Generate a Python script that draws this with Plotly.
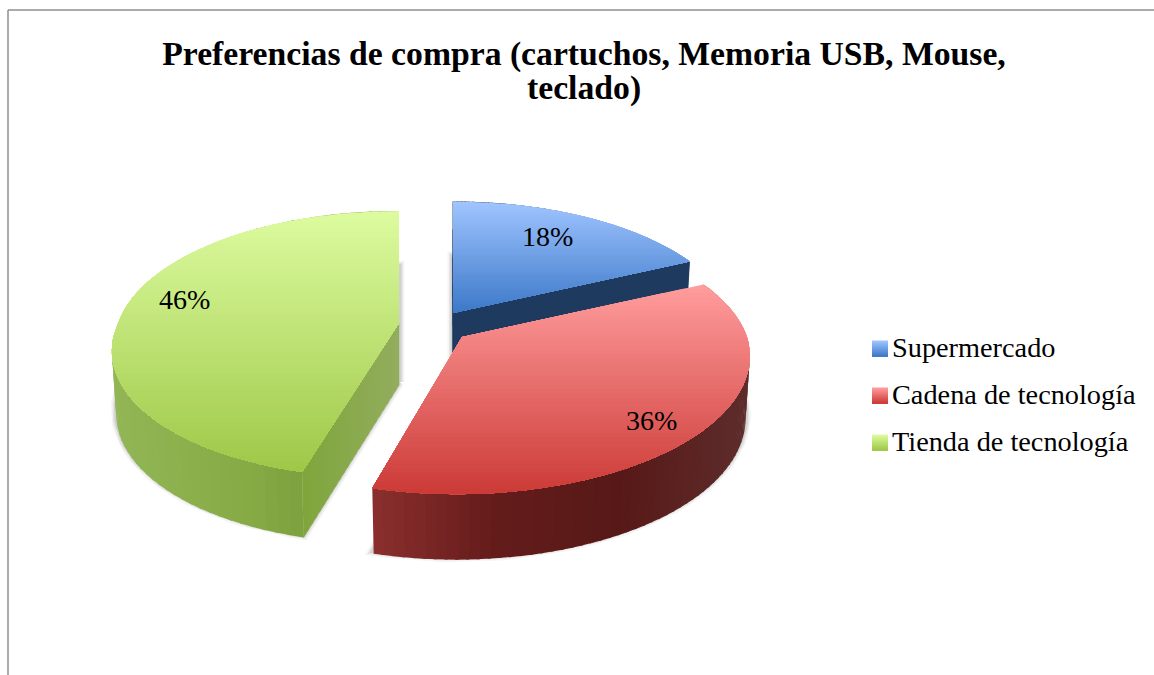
import math
import plotly.graph_objects as go

# ---- data ----
categories = ["Supermercado", "Cadena de tecnología", "Tienda de tecnología"]
values = [18, 36, 46]
title_line_1 = "Preferencias de compra (cartuchos, Memoria USB, Mouse,"
title_line_2 = "teclado)"

# ---- styles ----
top_colors = [("#9fc4ff", "#3d79c9"), ("#ff9c9c", "#cc3b37"), ("#dcfb9f", "#9fc848")]
wall_stops = [["#1e3a5f", "#1e3a5f"],
              ["#8c302e", "#641c1b", "#571917", "#5e2c2c"],
              ["#92b655", "#86ab45", "#6e9031"]]
end_wall_colors = [("#1e3a5f", "#1e3a5f"), ("#8c302e", "#8c302e"), ("#7fa63c", "#93ad5e")]
FONT = "Liberation Serif"

# ---- projection layout (pixels of the 1154x675 page) ----
APEX = [(453, 313), (462, 337), (399, 323)]
SCALE = [0.98, 1.0, 0.985]
SHEARS = [6, 6, 15]
A, B, K, H, SHRINK = 285, 132, 0.16, 62, 0.985
LABEL_R = 0.75
LABEL_NUDGE = [(-4, -4), (9, 13), (-10, -12)]
LEG_X, LEG_Y, LEG_STEP, SW = 872, 348.5, 47, 16


def hex2rgb(c):
    return tuple(int(c[i:i + 2], 16) for i in (1, 3, 5))


def mix(c0, c1, t):
    a, b = hex2rgb(c0), hex2rgb(c1)
    return "rgb(%d,%d,%d)" % tuple(round(a[i] + (b[i] - a[i]) * t) for i in range(3))


def ramp(stops, t):
    t = max(0, min(1, t)) * (len(stops) - 1)
    i = min(int(t), len(stops) - 2)
    return mix(stops[i], stops[i + 1], t - i)


def proj(theta, i, r=1.0, lower=False):
    apex = APEX[i]
    r = r * SCALE[i]
    d = -math.cos(theta)
    f = 1 / (1 - K * d)
    x = A * r * math.sin(theta) * f - SHEARS[i] * max(d, 0) * r
    y = B * r * d * f
    if lower:
        x *= SHRINK
        y += H + 3.5 * d
    return apex[0] + x, apex[1] + y


def apex_low(i):
    return APEX[i][0], APEX[i][1] + H


def arc(t0, t1, i, lower=False, n=80):
    return [proj(t0 + (t1 - t0) * j / n, i, 1.0, lower) for j in range(n + 1)]


def clip_below(poly, y0):
    out = []
    for i, p in enumerate(poly):
        q = poly[(i + 1) % len(poly)]
        if p[1] >= y0:
            out.append(p)
        if (p[1] >= y0) != (q[1] >= y0):
            t = (y0 - p[1]) / (q[1] - p[1])
            out.append((p[0] + (q[0] - p[0]) * t, y0))
    return out


fig = go.Figure()


def poly_trace(pts, color, line=0.0, name=None):
    xs = [p[0] for p in pts] + [pts[0][0]]
    ys = [p[1] for p in pts] + [pts[0][1]]
    fig.add_trace(go.Scatter(x=xs, y=ys, mode="lines", fill="toself", fillcolor=color,
                             line=dict(color=color, width=line), hoverinfo="skip",
                             showlegend=False, name=name))


def gradient_poly(pts, c0, c1, name=None, bands=48):
    ys = [p[1] for p in pts]
    y0, y1 = min(ys), max(ys)
    for i in range(bands):
        yy = y0 + (y1 - y0) * i / bands
        clipped = clip_below(pts, yy)
        if len(clipped) >= 3:
            poly_trace(clipped, mix(c0, c1, i / (bands - 1)), name=name)


# angular spans derived from the values
total = sum(values)
spans = []
acc = 0
for v in values:
    spans.append((2 * math.pi * acc / total, 2 * math.pi * (acc + v) / total))
    acc += v

# soft shadow under each slice
for i, (t0, t1) in enumerate(spans):
    low = [apex_low(i)] + arc(t0, t1, i, True)
    low = [(x, y - 3) for x, y in low]
    low.append(low[0])
    for w, al in ((11, 0.05), (8, 0.08), (5, 0.12)):
        fig.add_trace(go.Scatter(x=[p[0] for p in low], y=[p[1] for p in low], mode="lines",
                                 line=dict(color="rgba(60,60,60,%g)" % al, width=w),
                                 hoverinfo="skip", showlegend=False))


def outer_wall(i):
    t0, t1 = spans[i]
    n = 70
    xs = [proj(t0 + (t1 - t0) * j / n, i)[0] for j in range(n + 1)]
    x0, x1 = min(xs), max(xs)
    for j in range(n):
        a = t0 + (t1 - t0) * j / n
        b = min(t0 + (t1 - t0) * (j + 1.3) / n, t1)
        p = [proj(a, i), proj(b, i), proj(b, i, 1.0, True), proj(a, i, 1.0, True)]
        poly_trace(p, ramp(wall_stops[i], (xs[j] - x0) / (x1 - x0)))


def radial_wall(i, theta, c0, c1, n=24):
    apex = APEX[i]
    e = proj(theta, i)
    el = proj(theta, i, 1.0, True)
    al = apex_low(i)
    for j in range(n):
        u0, u1 = j / n, min(1, (j + 1.3) / n)
        p = [(e[0] + (apex[0] - e[0]) * u0, e[1] + (apex[1] - e[1]) * u0),
             (e[0] + (apex[0] - e[0]) * u1, e[1] + (apex[1] - e[1]) * u1),
             (el[0] + (al[0] - el[0]) * u1, el[1] + (al[1] - el[1]) * u1),
             (el[0] + (al[0] - el[0]) * u0, el[1] + (al[1] - el[1]) * u0)]
        poly_trace(p, mix(c0, c1, u0), line=0.5)


def top_face(i):
    t0, t1 = spans[i]
    pts = [APEX[i]] + arc(t0, t1, i)
    gradient_poly(pts, top_colors[i][0], top_colors[i][1], name=categories[i])


# blue (behind everything)
radial_wall(0, spans[0][0], *end_wall_colors[0], n=4)
outer_wall(0)
radial_wall(0, spans[0][1], *end_wall_colors[0], n=4)
top_face(0)
# green
outer_wall(2)
radial_wall(2, spans[2][0], *end_wall_colors[2])
top_face(2)
# red (front)
outer_wall(1)
top_face(1)

annotations = [dict(x=584, y=88, xref="x", yref="y", text="<b>%s</b>" % title_line_2, showarrow=False,
                    font=dict(family=FONT, size=33.7, color="black"))]
# percentage labels
for i, v in enumerate(values):
    mid = sum(spans[i]) / 2
    x, y = proj(mid, i, LABEL_R)
    annotations.append(dict(x=x + LABEL_NUDGE[i][0], y=y + LABEL_NUDGE[i][1], xref="x", yref="y",
                            text="%d%%" % v, showarrow=False,
                            font=dict(family=FONT, size=28, color="black")))
# legend
for i, name in enumerate(categories):
    cy = LEG_Y + LEG_STEP * i
    sw = [(LEG_X, cy - SW / 2), (LEG_X + SW, cy - SW / 2), (LEG_X + SW, cy + SW / 2), (LEG_X, cy + SW / 2)]
    gradient_poly(sw, top_colors[i][0], top_colors[i][1], bands=16)
    annotations.append(dict(x=LEG_X + 18, y=cy - 1, xref="x", yref="y", text=name, showarrow=False,
                            xanchor="left", font=dict(family=FONT, size=28.3, color="black")))

fig.update_layout(
    width=1154, height=675, autosize=False,
    margin=dict(l=0, r=0, t=0, b=0),
    paper_bgcolor="white", plot_bgcolor="white", showlegend=False,
    title=dict(text="<b>%s</b>" % title_line_1, x=584 / 1154, xanchor="center", y=1 - 53 / 675, yanchor="middle",
               font=dict(family=FONT, size=33.7, color="black")),
    xaxis=dict(range=[0, 1154], visible=False, fixedrange=True),
    yaxis=dict(range=[675, 0], visible=False, fixedrange=True),
    annotations=annotations,
    shapes=[dict(type="line", xref="x", yref="y", x0=8, x1=8, y0=10, y1=675,
                 line=dict(color="#8f8f8f", width=1.5)),
            dict(type="line", xref="x", yref="y", x0=8, x1=1154, y0=10, y1=10,
                 line=dict(color="#8f8f8f", width=1.5))],
)
fig.write_html("out.html", config={"displayModeBar": False},
               post_script="document.body.style.margin='0';document.body.style.overflow='hidden';")
